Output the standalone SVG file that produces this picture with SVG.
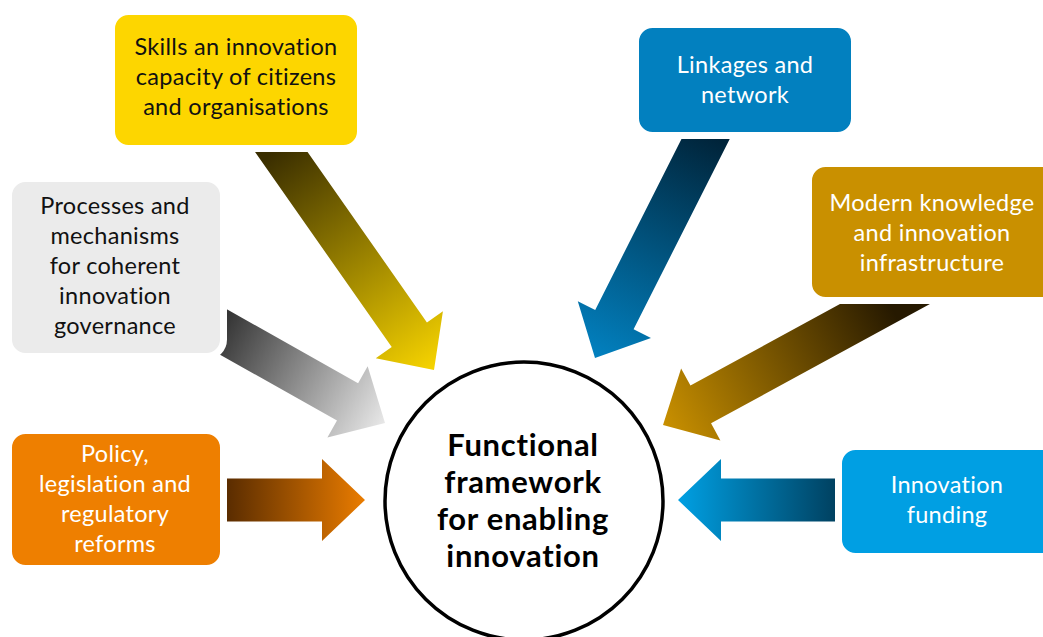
<svg xmlns="http://www.w3.org/2000/svg" width="1043" height="637" viewBox="0 0 1043 637">
<style>
.box{stroke:#ffffff;stroke-width:7}
.t{font-family:Lato,"Open Sans","Liberation Sans",sans-serif;font-size:23.5px;letter-spacing:0.3px;text-anchor:middle}
.dark{fill:#111111}
.light{fill:#ffffff}
.ct{font-family:Lato,"Open Sans","Liberation Sans",sans-serif;font-size:31px;letter-spacing:0.7px;font-weight:bold;text-anchor:middle;fill:#000000}
</style>
<defs>
<linearGradient id="gY" gradientUnits="userSpaceOnUse" x1="-270" y1="0" x2="0" y2="0"><stop offset="0" stop-color="#3a2e00"/><stop offset="1" stop-color="#f7d400"/></linearGradient>
<linearGradient id="gG" gradientUnits="userSpaceOnUse" x1="-190" y1="0" x2="0" y2="0"><stop offset="0" stop-color="#353535"/><stop offset="1" stop-color="#e8e8e8"/></linearGradient>
<linearGradient id="gO" gradientUnits="userSpaceOnUse" x1="-142" y1="0" x2="0" y2="0"><stop offset="0" stop-color="#562a00"/><stop offset="1" stop-color="#ea7c00"/></linearGradient>
<linearGradient id="gL" gradientUnits="userSpaceOnUse" x1="-250" y1="0" x2="0" y2="0"><stop offset="0" stop-color="#00243a"/><stop offset="1" stop-color="#0281c0"/></linearGradient>
<linearGradient id="gM" gradientUnits="userSpaceOnUse" x1="-257" y1="0" x2="0" y2="0"><stop offset="0" stop-color="#261900"/><stop offset="1" stop-color="#c99000"/></linearGradient>
<linearGradient id="gF" gradientUnits="userSpaceOnUse" x1="-161" y1="0" x2="0" y2="0"><stop offset="0" stop-color="#003f5e"/><stop offset="1" stop-color="#00a0e3"/></linearGradient>
</defs>
<rect width="1043" height="637" fill="#ffffff"/>
<g id="connectors">
<polygon transform="translate(434,370) rotate(55)" fill="url(#gY)" points="0,0 -43,-41 -43,-21.5 -300,-21.5 -300,21.5 -43,21.5 -43,41"/>
<polygon transform="translate(385,423) rotate(29.4)" fill="url(#gG)" points="0,0 -43,-41 -43,-21.5 -220,-21.5 -220,21.5 -43,21.5 -43,41"/>
<polygon transform="translate(365,500)" fill="url(#gO)" points="0,0 -43,-41 -43,-21.5 -150,-21.5 -150,21.5 -43,21.5 -43,41"/>
<polygon transform="translate(595,358) rotate(116.8)" fill="url(#gL)" points="0,0 -43,-41 -43,-21.5 -275,-21.5 -275,21.5 -43,21.5 -43,41"/>
<polygon transform="translate(663,425) rotate(151.4)" fill="url(#gM)" points="0,0 -43,-41 -43,-21.5 -320,-21.5 -320,21.5 -43,21.5 -43,41"/>
<polygon transform="translate(678,500) rotate(180)" fill="url(#gF)" points="0,0 -43,-41 -43,-21.5 -168,-21.5 -168,21.5 -43,21.5 -43,41"/>
</g>
<g id="node-skills">
<rect class="box" x="111.5" y="11.5" width="249" height="137" rx="17" fill="#fdd600"/>
<text class="t dark" x="236" y="55">Skills an innovation</text>
<text class="t dark" x="236" y="85">capacity of citizens</text>
<text class="t dark" x="236" y="115">and organisations</text>
</g>
<g id="node-processes">
<rect class="box" x="8.5" y="178.5" width="215" height="178" rx="17" fill="#ebebeb"/>
<text class="t dark" x="115" y="214">Processes and</text>
<text class="t dark" x="115" y="244">mechanisms</text>
<text class="t dark" x="115" y="274">for coherent</text>
<text class="t dark" x="115" y="304">innovation</text>
<text class="t dark" x="115" y="334">governance</text>
</g>
<g id="node-policy">
<rect class="box" x="8.5" y="430.5" width="215" height="138" rx="17" fill="#ee7f00"/>
<text class="t light" x="115" y="462">Policy,</text>
<text class="t light" x="115" y="492">legislation and</text>
<text class="t light" x="115" y="522">regulatory</text>
<text class="t light" x="115" y="552">reforms</text>
</g>
<g id="node-linkages">
<rect class="box" x="635.5" y="24.5" width="219" height="111" rx="17" fill="#0280bf"/>
<text class="t light" x="745" y="73">Linkages and</text>
<text class="t light" x="745" y="103">network</text>
</g>
<g id="node-modern">
<rect class="box" x="808.5" y="163.5" width="257" height="137" rx="17" fill="#c99000"/>
<text class="t light" x="932" y="211">Modern knowledge</text>
<text class="t light" x="932" y="241">and innovation</text>
<text class="t light" x="932" y="271">infrastructure</text>
</g>
<g id="node-funding">
<rect class="box" x="838.5" y="446.5" width="227" height="110" rx="17" fill="#009fe3"/>
<text class="t light" x="947" y="493">Innovation</text>
<text class="t light" x="947" y="523">funding</text>
</g>
<g id="node-center">
<circle cx="524" cy="501" r="139" fill="#ffffff" stroke="#000000" stroke-width="3.5"/>
<text class="ct" x="523" y="456">Functional</text>
<text class="ct" x="523" y="493">framework</text>
<text class="ct" x="523" y="530">for enabling</text>
<text class="ct" x="523" y="567">innovation</text>
</g>
</svg>
